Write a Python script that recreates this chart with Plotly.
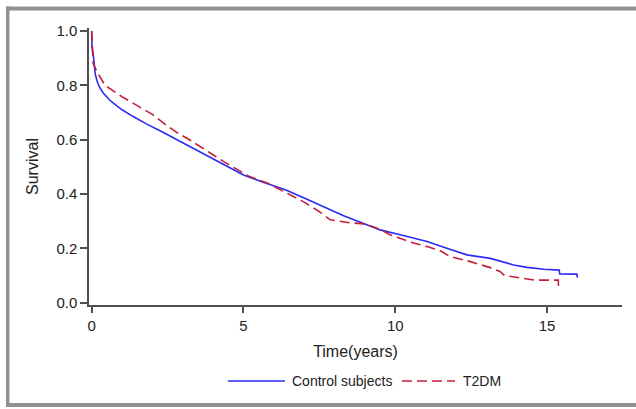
import plotly.graph_objects as go

# Kaplan-Meier survival estimates
control_time = [0, 0.01, 0.05, 0.08, 0.12, 0.18, 0.25, 0.38, 0.6, 0.82, 1.0, 1.37, 1.8, 2.3,
                2.8, 3.5, 4.35, 5.0, 5.6, 6.4, 7.0, 7.5, 8.3, 9.0, 9.5, 10.2, 11.05, 11.7,
                12.36, 13.13, 13.56, 13.9, 14.34, 14.9, 15.4, 15.42, 15.98, 16.0]
control_surv = [1.0, 0.94, 0.915, 0.875, 0.84, 0.815, 0.795, 0.772, 0.745, 0.725, 0.71, 0.685,
                0.658, 0.63, 0.60, 0.56, 0.507, 0.47, 0.445, 0.415, 0.385, 0.36, 0.32, 0.29,
                0.268, 0.249, 0.225, 0.20, 0.176, 0.163, 0.151, 0.139, 0.13, 0.123, 0.12,
                0.106, 0.105, 0.092]

t2dm_time = [0, 0.02, 0.05, 0.2, 0.44, 1.0, 1.5, 2.0, 2.4, 2.8, 3.25, 3.6, 4.35, 5.2, 5.8,
             6.4, 7.0, 7.5, 7.86, 8.5, 9.0, 9.5, 9.83, 10.2, 10.6, 11.1, 11.5, 11.8, 12.45,
             13.1, 13.45, 13.6, 14.6, 15.37, 15.38]
t2dm_surv = [1.0, 0.93, 0.88, 0.845, 0.80, 0.758, 0.725, 0.693, 0.658, 0.627, 0.598, 0.572,
             0.519, 0.464, 0.44, 0.405, 0.37, 0.335, 0.305, 0.294, 0.29, 0.27, 0.25, 0.235,
             0.22, 0.205, 0.19, 0.17, 0.152, 0.13, 0.115, 0.10, 0.083, 0.083, 0.057]

series_names = ["Control subjects", "T2DM"]
series_colors = ["#2a2af5", "#c41e3a"]
series_dash = ["solid", "10px,5px"]
x_ticks = [0, 5, 10, 15]
y_ticks = [0.0, 0.2, 0.4, 0.6, 0.8, 1.0]
y_tick_labels = ["0.0", "0.2", "0.4", "0.6", "0.8", "1.0"]

FONT = "Liberation Sans, Arial, sans-serif"
AXIS_COLOR = "#505050"

fig = go.Figure()
for t, s, name, col, dash in [(control_time, control_surv, series_names[0], series_colors[0], series_dash[0]),
                              (t2dm_time, t2dm_surv, series_names[1], series_colors[1], series_dash[1])]:
    fig.add_trace(go.Scatter(x=t, y=s, mode="lines", name=name, showlegend=False,
                             line=dict(color=col, width=1.6, dash=dash)))

fig.update_layout(
    width=636, height=409,
    margin=dict(l=89, r=14, t=28, b=104),
    paper_bgcolor="white", plot_bgcolor="white",
    font=dict(family=FONT, size=15, color="#222222"),
    xaxis=dict(range=[-0.088, 17.47], tickvals=x_ticks, ticks="outside", ticklen=6,
               tickcolor=AXIS_COLOR, tickwidth=1.5, showline=True, linecolor=AXIS_COLOR,
               linewidth=1.5, showgrid=False, zeroline=False, tickfont=dict(size=15),
               title=dict(text="Time(years)", font=dict(size=16), standoff=13)),
    yaxis=dict(range=[-0.0085, 1.011], tickvals=y_ticks, ticktext=y_tick_labels,
               ticks="outside", ticklen=7, tickcolor=AXIS_COLOR, tickwidth=1.5,
               showline=True, linecolor=AXIS_COLOR, linewidth=1.5, showgrid=False,
               zeroline=False, tickfont=dict(size=15),
               title=dict(text="Survival", font=dict(size=16), standoff=14)),
)

# legend drawn as line samples + labels below the axis title
def px_x(p):
    return (p - 89) / (636 - 89 - 14)

def px_y(p):
    return (409 - 104 - p) / (409 - 104 - 28)

legend_spec = [(228, 285, 290, series_names[0], series_colors[0], "solid"),
               (402, 455, 461, series_names[1], series_colors[1], "10px,5px")]
for x0, x1, xt, name, col, dash in legend_spec:
    fig.add_shape(type="line", xref="paper", yref="paper", x0=px_x(x0), x1=px_x(x1),
                  y0=px_y(381), y1=px_y(381), line=dict(color=col, width=1.6, dash=dash))
    fig.add_annotation(xref="paper", yref="paper", x=px_x(xt), y=px_y(381), text=name,
                       showarrow=False, xanchor="left", yanchor="middle",
                       font=dict(size=14, color="#222222"))

# grey frame around the figure (left, top, bottom edges)
BORDER = "#919191"
fig.add_shape(type="line", xref="paper", yref="paper", x0=px_x(6), x1=px_x(660), y0=px_y(8.5), y1=px_y(8.5),
              line=dict(color=BORDER, width=4))
fig.add_shape(type="line", xref="paper", yref="paper", x0=px_x(6), x1=px_x(660), y0=px_y(405), y1=px_y(405),
              line=dict(color=BORDER, width=4))
fig.add_shape(type="line", xref="paper", yref="paper", x0=px_x(7.7), x1=px_x(7.7), y0=px_y(6.5), y1=px_y(407),
              line=dict(color=BORDER, width=3.5))

fig.write_html("out.html", config={"displayModeBar": False},
               post_script="document.body.style.margin='0px';")
